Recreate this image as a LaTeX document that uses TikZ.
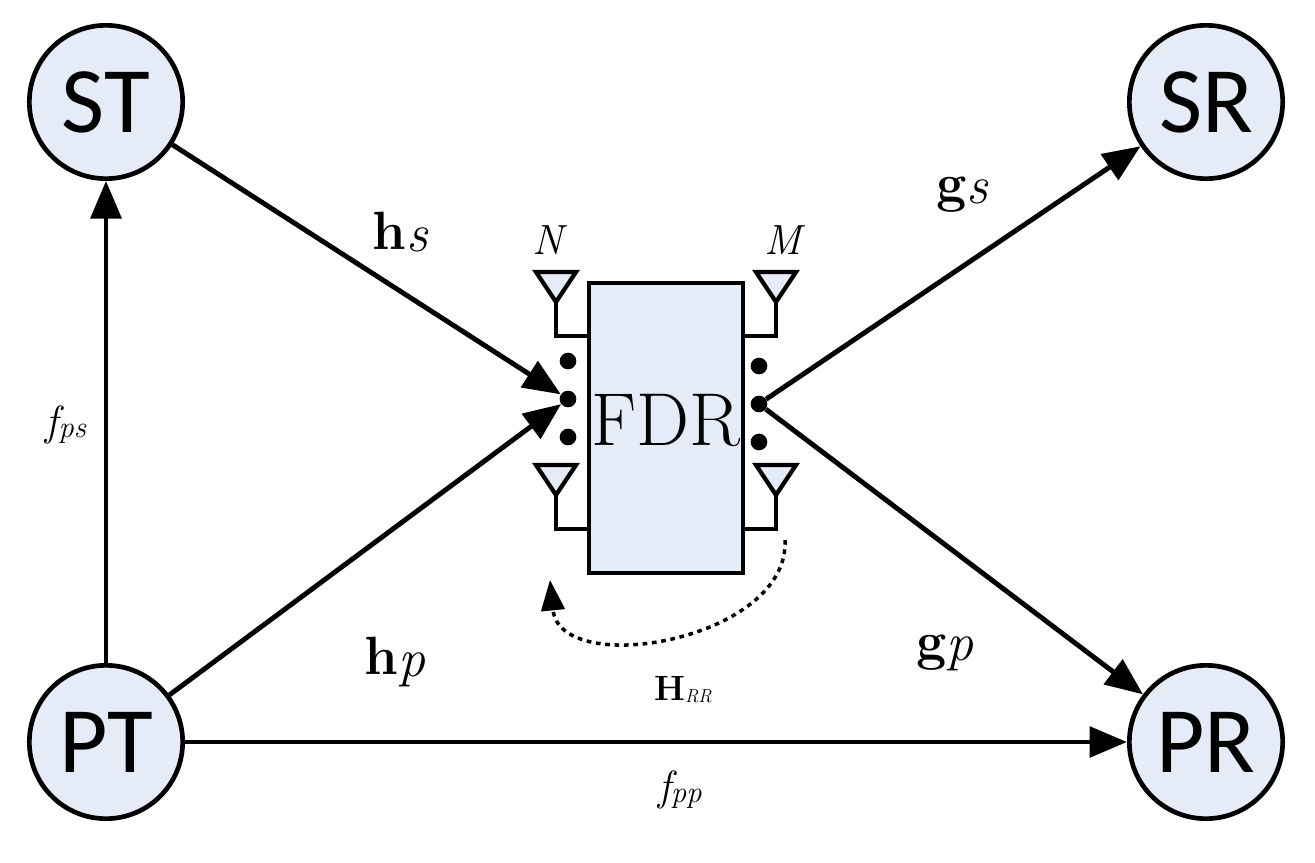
\documentclass[tikz,border=0pt]{standalone}
\usepackage{fontspec}
\newfontfamily\sans{Carlito}
\usetikzlibrary{arrows.meta}
\definecolor{nf}{HTML}{E6ECF7}
\newcommand{\vsym}[3]{{\fontsize{#3}{#3}\selectfont\bfseries #1}\raisebox{-0.35ex}{\fontsize{#3}{#3}\selectfont\itshape #2}}
\begin{document}
\begin{tikzpicture}[x=0.03cm,y=-0.03cm,
  nd/.style={circle,draw,line width=4pt,fill=nf,minimum size=4.6cm,inner sep=0pt,font=\sans\fontsize{80}{80}\selectfont},
  ln/.style={line width=4.2pt},
  arr/.style={ln,-{Triangle[length=32pt,width=26pt]}},
  ant/.style={line width=3.6pt,fill=nf},
  dot/.style={circle,fill=black,inner sep=0pt,minimum size=0.5cm}]
\useasboundingbox (0,0) rectangle (1315,862);
\node[nd] (ST) at (106,102) {ST};
\node[nd] (SR) at (1206,102) {SR};
\node[nd] (PT) at (106,742) {PT};
\node[nd] (PR) at (1206,742) {PR};
\node[draw,line width=4.2pt,fill=nf,minimum width=4.62cm,minimum height=8.7cm,inner sep=0pt] (F) at (666,428) {};
\node[font=\fontsize{64}{64}\selectfont] (FT) at (666,420) {FDR};
\foreach \cx/\ty/\sy/\ex in {556/272/336/589, 556/465/529/589, 776/272/336/743, 776/465/529/743}{
  \draw[ant] (\cx-20,\ty) -- (\cx+20,\ty) -- (\cx,\ty+30) -- cycle;
  \draw[ln] (\cx,\ty+30) -- (\cx,\sy) -- (\ex,\sy);
}
\node[dot] (l1) at (568,361) {};
\node[dot] (l2) at (568,399) {};
\node[dot] (l3) at (568,437) {};
\node[dot] (r1) at (759,366) {};
\node[dot] (r2) at (759,404) {};
\node[dot] (r3) at (759,442) {};
\draw[arr] (ST) -- (l2);
\draw[arr] (PT) -- (l2);
\draw[arr] (r2) -- (SR);
\draw[arr] (r2) -- (PR);
\draw[arr] (PT) -- (ST);
\draw[arr] (PT.east) -- (PR.west);
\coordinate (d1) at (785,540);
\coordinate (d2) at (550,580);
\draw[line width=3pt,dash pattern=on 4pt off 4pt,-{Triangle[length=26pt,width=20pt]}] (d1) .. controls (790,640) and (560,680) .. (d2);
\node at (400,232) {\vsym{h}{s}{46}};
\node at (395,662) {\vsym{h}{p}{46}};
\node at (962,195) {\vsym{g}{s}{46}};
\node at (945,653) {\vsym{g}{p}{46}};
\node[font=\fontsize{36}{36}\selectfont\itshape] at (548,240) {N};
\node[font=\fontsize{36}{36}\selectfont\itshape] at (783,240) {M};
\node at (683,690) {{\fontsize{30}{30}\selectfont\bfseries H}\raisebox{-0.4ex}{\fontsize{16}{16}\selectfont\itshape RR}};
\node at (66,425) {{\fontsize{36}{36}\selectfont\itshape f}\raisebox{-0.4ex}{\fontsize{26}{26}\selectfont\itshape ps}};
\node at (680,790) {{\fontsize{36}{36}\selectfont\itshape f}\raisebox{-0.4ex}{\fontsize{26}{26}\selectfont\itshape pp}};
\end{tikzpicture}
\end{document}
